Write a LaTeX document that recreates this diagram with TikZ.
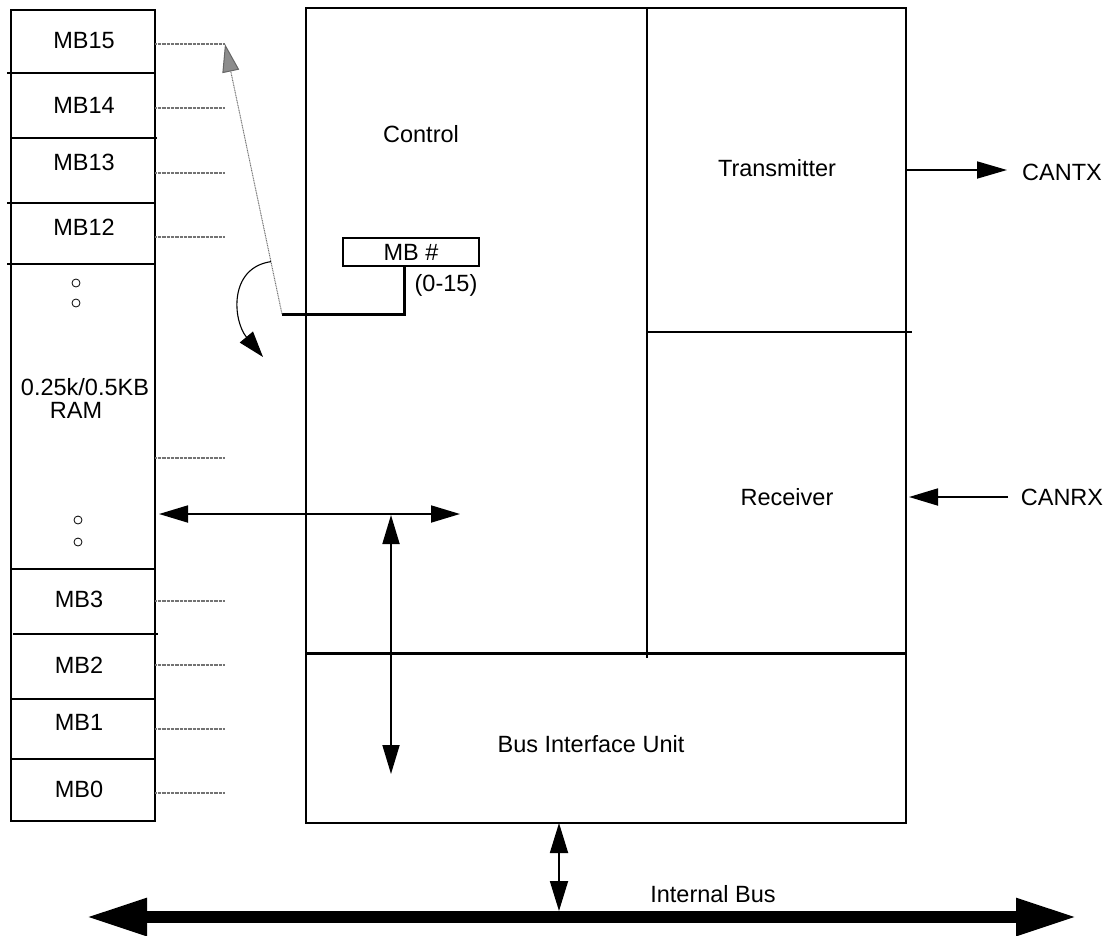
\documentclass[tikz,border=0pt]{standalone}
\usepackage{fontspec}
\setmainfont{Liberation Sans}
\usetikzlibrary{arrows.meta,calc}
\begin{document}
\begin{tikzpicture}[x=1pt,y=-1pt,
  blk/.style={draw, line width=2pt, inner sep=0pt, outer sep=0pt},
  rule/.style={line width=2pt},
  lbl/.style={font=\fontsize{23.5}{24}\selectfont, inner sep=0pt, anchor=base},
  slotline/.style={draw=black!55, line width=2.4pt, dash pattern=on 0.8pt off 0.5pt},
  dotmark/.style={circle, draw, line width=0.8pt, minimum size=8pt, inner sep=0pt},
  pointer/.style={draw=black!55, line width=1pt, dash pattern=on 1pt off 0.7pt,
     -{Triangle[length=28pt,width=17pt,fill=black!45,color=black!60]}},
  headS/.tip={Triangle[length=29pt,width=17pt]},
  headB/.tip={Triangle[length=61pt,width=35pt]},
  conn/.style={line width=1.8pt}
]
\useasboundingbox (0,0) rectangle (1109,935);

% RAM column
\node[blk, line width=2.3pt, minimum width=144pt, minimum height=811pt, anchor=north west] (ram) at (11,10) {};
\foreach \ya/\xa/\xb in {73/7/155, 138/11/157, 203/7/155, 264/7/155, 569/11/155, 634/13/158, 699/11/155, 759/11/155}
  \draw[rule] (\xa,\ya) -- (\xb,\ya);

\node[lbl] (mb15) at (84,48) {MB15};
\node[lbl] (mb14) at (84,113) {MB14};
\node[lbl] (mb13) at (84,170) {MB13};
\node[lbl] (mb12) at (84,235) {MB12};
\node[lbl] (ramsize) at (85,395) {0.25k/0.5KB};
\node[lbl] (ramword) at (76,418) {RAM};
\node[lbl] (mb3) at (79,607) {MB3};
\node[lbl] (mb2) at (79,673) {MB2};
\node[lbl] (mb1) at (79,730) {MB1};
\node[lbl] (mb0) at (79,797) {MB0};

\node[dotmark] (o1) at (76,283) {};
\node[dotmark] (o2) at (76,303) {};
\node[dotmark] (o3) at (78,520) {};
\node[dotmark] (o4) at (78,542) {};

\foreach \n/\y in {15/44,14/108,13/173,12/237,x/458,3/601,2/665,1/729,0/793} {
  \coordinate (e\n) at (225,\y);
  \draw[slotline] (ram.east |- e\n) -- (e\n);
}

% main block
\node[blk, minimum width=341pt, minimum height=646pt, anchor=north west] (ctrl) at (306,7.5) {};
\node[blk, minimum width=259pt, minimum height=324.5pt, anchor=north west] (tx) at (647,7.5) {};
\node[blk, minimum width=259pt, minimum height=321.5pt, anchor=north west] (rx) at (647,332) {};
\node[blk, minimum width=600pt, minimum height=169.5pt, anchor=north west] (biu) at (306,653.5) {};
\draw[line width=3pt] (biu.north west) -- (biu.north east);
\draw[rule] (tx.south east) -- ++(6,0);
\draw[rule] (ctrl.south east) -- ++(0,4);

\node[lbl] (ctrlT) at (421,142) {Control};
\node[lbl] (txT) at (777,176.5) {Transmitter};
\node[lbl] (rxT) at (787,505) {Receiver};
\node[lbl] (biuT) at (591,752) {Bus Interface Unit};
\node[lbl] (cantx) at (1062,180) {CANTX};
\node[lbl] (canrx) at (1062,505) {CANRX};
\node[lbl] (ibus) at (713,902) {Internal Bus};

% MB # selector
\node[blk, minimum width=136pt, minimum height=28pt, anchor=north west,
      font=\fontsize{23.5}{24}\selectfont, text height=16.8pt, text depth=0pt] (mbnum) at (343,238) {MB \#};
\node[lbl] (range) at (446,291) {(0-15)};
\coordinate (bend) at (404,314);
\coordinate (pivot) at (282,314);
\draw[line width=3pt] (bend |- mbnum.south) -- (bend) -- (pivot);
\draw[pointer] (pivot) -- (e15);
\coordinate (cstart) at ($(pivot)!0.194!(e15)$);
\coordinate (rot) at (263,357);
\draw[line width=1.1pt, -{Triangle[length=26pt,width=17pt]}] (cstart) .. controls (228,268) and (233,321) .. (rot);

% internal arrows
\coordinate (hl) at (159,514);
\coordinate (hr) at (460,514);
\draw[conn, headS-headS] (hl) -- (hr);
\coordinate (vt) at (391,515);
\coordinate (vb) at (391,774);
\draw[conn, headS-headS] (vt) -- (vb);

% CAN pins
\coordinate (txo) at (1007,170);
\draw[conn, -{Triangle[length=30pt,width=17pt]}] (tx.east |- txo) -- (txo);
\coordinate (rxi) at (1008,497);
\coordinate (rxt) at (909,497);
\draw[conn, -{Triangle[length=29pt,width=17pt]}] (rxi) -- (rxt);

% internal bus
\coordinate (busL) at (86,917);
\coordinate (busR) at (1077,917);
\draw[line width=11.7pt, headB-headB] (busL) -- (busR);
\coordinate (bt) at (559,911);
\draw[conn, {Triangle[length=30pt,width=18pt]}-{Triangle[length=30pt,width=18pt]}] (biu.south -| bt) -- (bt);
\end{tikzpicture}
\end{document}
